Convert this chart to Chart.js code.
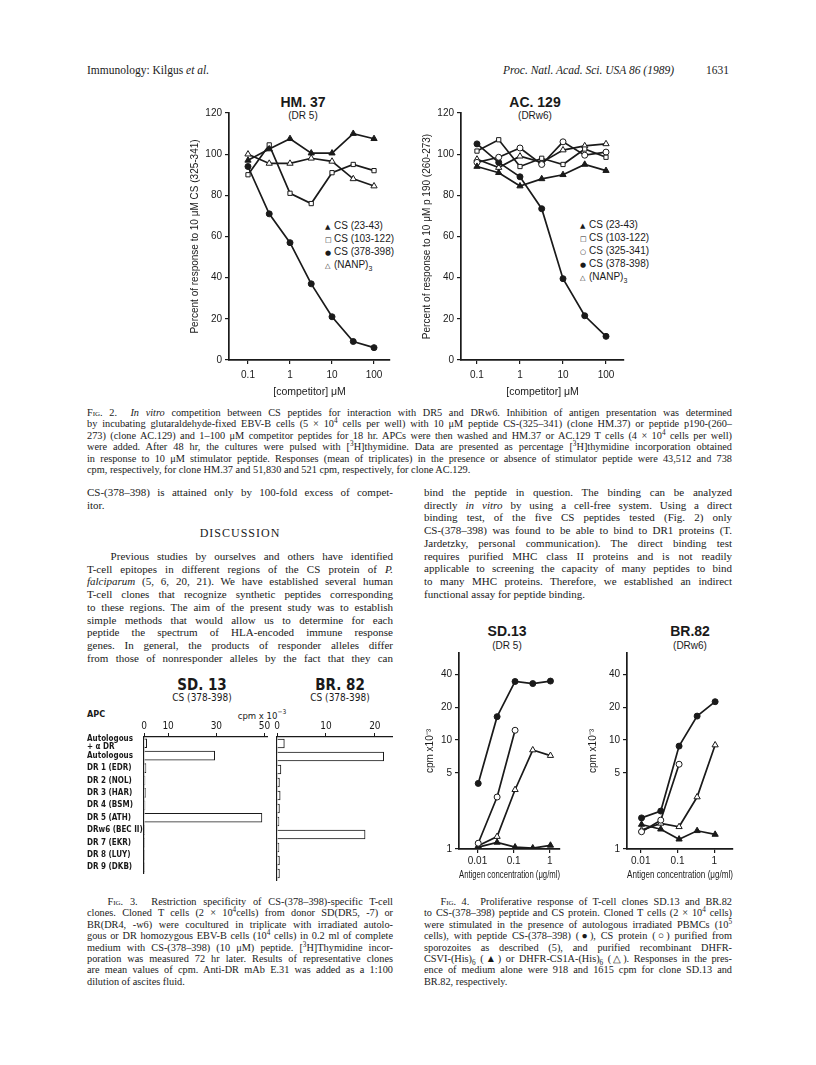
<!DOCTYPE html>
<html>
<head>
<meta charset="utf-8">
<title>Kilgus et al., PNAS 86 (1989) p. 1631</title>
<script src="https://cdn.jsdelivr.net/npm/chart.js"></script>
<style>
  body { margin:0; width:816px; height:1065px; position:relative; overflow:hidden; background:#fff; color:#1a1a1a; font-family:"Liberation Serif","Times New Roman",serif; }
  .abs { position:absolute; }
  canvas { position:absolute; }
  .txt div { white-space:nowrap; text-align:justify; text-align-last:justify; }
  .txt div.end { text-align-last:left; }
  .body { font-size:11px; line-height:12.7px; }
  .cap { font-size:10.3px; line-height:11.4px; }
  .sc { font-variant:small-caps; }
  sup, sub { font-size:0.7em; line-height:0; }
  .sans { font-family:"Liberation Sans",Arial,sans-serif; }
  .narrow { font-family:"Liberation Sans Narrow","DejaVu Sans Condensed","Arial Narrow",sans-serif; }
  .ttl { text-align:center; transform:translate(-50%,-50%); white-space:nowrap; }
  .leg { font-family:"Liberation Sans",Arial,sans-serif; font-size:10px; line-height:12px; white-space:nowrap; }
  .sym { font-family:"DejaVu Sans",sans-serif; font-size:7px; display:inline-block; width:9px; }
</style>
</head>
<body>

<!-- running head -->
<div class="abs" style="left:87px; top:64px; font-size:11.5px;">Immunology: Kilgus <i>et al.</i></div>
<div class="abs" style="left:503px; top:64px; font-size:11.5px;"><i>Proc. Natl. Acad. Sci. USA 86 (1989)</i></div>
<div class="abs" style="left:706px; top:64px; font-size:11.5px;">1631</div>

<!-- Fig. 2 titles and legends -->
<div class="abs ttl sans" style="left:303px; top:102px; font-size:14px; font-weight:bold;">HM. 37</div>
<div class="abs ttl sans" style="left:303px; top:115px; font-size:10px;">(DR 5)</div>
<div class="abs ttl sans" style="left:535px; top:102px; font-size:14px; font-weight:bold;">AC. 129</div>
<div class="abs ttl sans" style="left:535px; top:115px; font-size:10px;">(DRw6)</div>

<div class="abs leg" style="left:325px; top:220px;">
  <div><span class="sym">▲</span>CS (23-43)</div>
  <div><span class="sym">□</span>CS (103-122)</div>
  <div><span class="sym">●</span>CS (378-398)</div>
  <div><span class="sym">△</span>(NANP)<sub>3</sub></div>
</div>
<div class="abs leg" style="left:580px; top:219px;">
  <div><span class="sym">▲</span>CS (23-43)</div>
  <div><span class="sym">□</span>CS (103-122)</div>
  <div><span class="sym">○</span>CS (325-341)</div>
  <div><span class="sym">●</span>CS (378-398)</div>
  <div><span class="sym">△</span>(NANP)<sub>3</sub></div>
</div>

<canvas id="hm37" width="207" height="294" style="left:189px; top:104px;"></canvas>
<canvas id="ac129" width="209" height="294" style="left:421px; top:104px;"></canvas>

<!-- Fig. 2 legend text -->
<div class="abs txt cap" style="left:87px; top:407px; width:645px;">
  <div><span class="sc">Fig.</span> 2. &nbsp;<i>In vitro</i> competition between CS peptides for interaction with DR5 and DRw6. Inhibition of antigen presentation was determined</div>
  <div>by incubating glutaraldehyde-fixed EBV-B cells (5 × 10<sup>4</sup> cells per well) with 10 μM peptide CS-(325–341) (clone HM.37) or peptide p190-(260–</div>
  <div>273) (clone AC.129) and 1–100 μM competitor peptides for 18 hr. APCs were then washed and HM.37 or AC.129 T cells (4 × 10<sup>4</sup> cells per well)</div>
  <div>were added. After 48 hr, the cultures were pulsed with [<sup>3</sup>H]thymidine. Data are presented as percentage [<sup>3</sup>H]thymidine incorporation obtained</div>
  <div>in response to 10 μM stimulator peptide. Responses (mean of triplicates) in the presence or absence of stimulator peptide were 43,512 and 738</div>
  <div class="end">cpm, respectively, for clone HM.37 and 51,830 and 521 cpm, respectively, for clone AC.129.</div>
</div>

<!-- left column -->
<div class="abs txt body" style="left:87px; top:486px; width:306px;">
  <div>CS-(378–398) is attained only by 100-fold excess of compet-</div>
  <div class="end">itor.</div>
</div>
<div class="abs" style="left:87px; top:526px; width:306px; text-align:center; font-size:12px; letter-spacing:1px;">DISCUSSION</div>
<div class="abs txt body" style="left:87px; top:550px; width:306px;">
  <div>&nbsp;&nbsp;&nbsp;Previous studies by ourselves and others have identified</div>
  <div>T-cell epitopes in different regions of the CS protein of <i>P.</i></div>
  <div><i>falciparum</i> (5, 6, 20, 21). We have established several human</div>
  <div>T-cell clones that recognize synthetic peptides corresponding</div>
  <div>to these regions. The aim of the present study was to establish</div>
  <div>simple methods that would allow us to determine for each</div>
  <div>peptide the spectrum of HLA-encoded immune response</div>
  <div>genes. In general, the products of responder alleles differ</div>
  <div>from those of nonresponder alleles by the fact that they can</div>
</div>

<!-- right column -->
<div class="abs txt body" style="left:424px; top:486px; width:308px;">
  <div>bind the peptide in question. The binding can be analyzed</div>
  <div>directly <i>in vitro</i> by using a cell-free system. Using a direct</div>
  <div>binding test, of the five CS peptides tested (Fig. 2) only</div>
  <div>CS-(378–398) was found to be able to bind to DR1 proteins (T.</div>
  <div>Jardetzky, personal communication). The direct binding test</div>
  <div>requires purified MHC class II proteins and is not readily</div>
  <div>applicable to screening the capacity of many peptides to bind</div>
  <div>to many MHC proteins. Therefore, we established an indirect</div>
  <div class="end">functional assay for peptide binding.</div>
</div>

<!-- Fig. 3 -->
<div class="abs ttl narrow" style="left:202px; top:685px; font-size:15px; font-weight:bold;">SD. 13</div>
<div class="abs ttl narrow" style="left:202px; top:697px; font-size:10px;">CS (378-398)</div>
<div class="abs ttl narrow" style="left:340px; top:685px; font-size:15px; font-weight:bold;">BR. 82</div>
<div class="abs ttl narrow" style="left:340px; top:697px; font-size:10px;">CS (378-398)</div>
<div class="abs narrow" style="left:87px; top:709px; font-size:9px; font-weight:bold;">APC</div>
<div class="abs ttl narrow" style="left:262px; top:715px; font-size:9.5px;">cpm x 10<sup>−3</sup></div>

<canvas id="sd13bar" width="191" height="167" style="left:82px; top:715px;"></canvas>
<canvas id="br82bar" width="125" height="167" style="left:273px; top:715px;"></canvas>

<div class="abs txt cap" style="left:87px; top:896px; width:306px;">
  <div>&nbsp;&nbsp;&nbsp;<span class="sc">Fig.</span> 3. &nbsp;Restriction specificity of CS-(378–398)-specific T-cell</div>
  <div>clones. Cloned T cells (2 × 10<sup>4</sup>cells) from donor SD(DR5, -7) or</div>
  <div>BR(DR4, -w6) were cocultured in triplicate with irradiated autolo-</div>
  <div>gous or DR homozygous EBV-B cells (10<sup>4</sup> cells) in 0.2 ml of complete</div>
  <div>medium with CS-(378–398) (10 μM) peptide. [<sup>3</sup>H]Thymidine incor-</div>
  <div>poration was measured 72 hr later. Results of representative clones</div>
  <div>are mean values of cpm. Anti-DR mAb E.31 was added as a 1:100</div>
  <div class="end">dilution of ascites fluid.</div>
</div>

<!-- Fig. 4 -->
<div class="abs ttl sans" style="left:507px; top:631px; font-size:14px; font-weight:bold;">SD.13</div>
<div class="abs ttl sans" style="left:507px; top:645px; font-size:10px;">(DR 5)</div>
<div class="abs ttl sans" style="left:690px; top:631px; font-size:14px; font-weight:bold;">BR.82</div>
<div class="abs ttl sans" style="left:690px; top:645px; font-size:10px;">(DRw6)</div>

<canvas id="sd13line" width="144" height="237" style="left:424px; top:644px;"></canvas>
<canvas id="br82line" width="154" height="237" style="left:587px; top:644px;"></canvas>

<div class="abs txt cap" style="left:424px; top:896px; width:308px;">
  <div>&nbsp;&nbsp;&nbsp;<span class="sc">Fig.</span> 4. &nbsp;Proliferative response of T-cell clones SD.13 and BR.82</div>
  <div>to CS-(378–398) peptide and CS protein. Cloned T cells (2 × 10<sup>4</sup> cells)</div>
  <div>were stimulated in the presence of autologous irradiated PBMCs (10<sup>5</sup></div>
  <div>cells), with peptide CS-(378–398) (●), CS protein (○) purified from</div>
  <div>sporozoites as described (5), and purified recombinant DHFR-</div>
  <div>CSVI-(His)<sub>6</sub> (▲) or DHFR-CS1A-(His)<sub>6</sub> (△). Responses in the pres-</div>
  <div>ence of medium alone were 918 and 1615 cpm for clone SD.13 and</div>
  <div class="end">BR.82, respectively.</div>
</div>

<script type="text/javascript">

    // Fig. 2 - competitor concentration (uM) and percent response
    var competitorConc = [0.1, 0.32, 1, 3.2, 10, 32, 100];
    var hm37Cs23 = [97, 102.5, 107.5, 100.5, 100.5, 110, 107.5];
    var hm37Cs103 = [90, 104.5, 81, 76, 91, 95, 92];
    var hm37Cs378 = [94, 71, 57, 37, 21, 9, 6];
    var hm37Nanp = [100, 95.5, 95.5, 98, 96.5, 88, 84.5];
    var ac129Cs23 = [94, 91, 84.5, 88, 90, 95, 92];
    var ac129Cs103 = [101.5, 107, 94, 98, 95, 102.5, 98.5];
    var ac129Cs325 = [96, 98.5, 103, 95, 106, 99.5, 101];
    var ac129Cs378 = [105, 96, 89, 73.5, 39.5, 21.5, 11.5];
    var ac129Nanp = [97.5, 93.5, 99, 96, 102, 104, 105];
    var percentTicks = [0, 20, 40, 60, 80, 100, 120];
    var competitorTicks = [0.1, 1, 10, 100];

    // Fig. 3 - APC panel, cpm x 10^-3
    var apcLabels = [['Autologous', '+ \u03b1 DR'], 'Autologous', 'DR 1 (EDR)', 'DR 2 (NOL)', 'DR 3 (HAR)', 'DR 4 (BSM)',
        'DR 5 (ATH)', 'DRw6 (BEC II)', 'DR 7 (EKR)', 'DR 8 (LUY)', 'DR 9 (DKB)'];
    var sd13Cpm = [1.1, 29.3, 0.8, 0.4, 0.6, 0.4, 48.9, 0.3, 0.3, 0.3, 0.3];
    var br82Cpm = [1.5, 21.8, 0.8, 0.5, 0.65, 0.5, 0.4, 18, 0.4, 0.5, 0.5];
    var sd13CpmTicks = [0, 10, 30, 50];
    var br82CpmTicks = [0, 10, 20];

    // Fig. 4 - antigen concentration (ug/ml) and cpm x 10^-3
    var antigenConc = [0.0105, 0.035, 0.11, 0.34, 1.05];
    var sd13Peptide = [4.0, 16.4, 34.5, 33, 34.8];
    var sd13Protein = [1.13, 3.0, 12.3];
    var sd13Csvi = [1.04, 1.15, 1.04, 1.02, 1.08];
    var sd13Cs1a = [1.07, 1.3, 3.5, 8.1, 7.2];
    var br82Peptide = [1.93, 2.23, 8.8, 16.6, 22.5];
    var br82Protein = [1.44, 1.84, 6.0];
    var br82Csvi = [1.68, 1.52, 1.23, 1.47, 1.36];
    var br82Cs1a = [1.49, 1.72, 1.6, 3.0, 9.0];
    var cpmTicks = [1, 5, 10, 20, 40];
    var antigenTicks = [0.01, 0.1, 1];

    var black = '#1a1a1a';
    var sansFont = '"Liberation Sans", Arial, sans-serif';
    var narrowFont = '"Liberation Sans Narrow", "DejaVu Sans Condensed", "Arial Narrow", sans-serif';

    Chart.defaults.font.family = sansFont;
    Chart.defaults.color = black;
    Chart.defaults.animation = false;

    function pts(xs, ys) {
        return ys.map(function (y, i) { return { x: xs[i], y: y }; });
    }

    function series(label, xs, ys, style, filled) {
        return {
            label: label,
            data: pts(xs, ys),
            borderColor: black,
            borderWidth: 1.7,
            pointStyle: style,
            pointRadius: style == 'triangle' ? 3.6 : 3,
            pointBorderWidth: 1,
            pointBorderColor: black,
            pointBackgroundColor: filled ? black : '#fff',
            tension: 0
        };
    }

    function fixW(w) { return function (s) { s.width = w; }; }
    function fixH(h) { return function (s) { s.height = h; }; }
    function setTicks(vals) {
        return function (s) { s.ticks = vals.map(function (v) { return { value: v }; }); };
    }

    var axisGrid = { drawOnChartArea: false, tickLength: 4, color: black, lineWidth: 1.2 };
    var axisBorder = { color: black, width: 1.7 };

    function lineChart(id, datasets, x, y, pad) {
        new Chart(document.getElementById(id), {
            type: 'line',
            data: { datasets: datasets },
            options: {
                responsive: false,
                animation: false,
                layout: { padding: pad },
                plugins: { legend: { display: false }, tooltip: { enabled: false } },
                scales: {
                    x: {
                        type: 'logarithmic', min: x.min, max: x.max,
                        afterBuildTicks: setTicks(x.ticks),
                        ticks: { autoSkip: false, maxRotation: 0, padding: x.pad, font: { size: 10 }, color: black,
                            callback: function (v) { return String(v); } },
                        grid: axisGrid, border: axisBorder,
                        title: { display: true, text: x.title, font: { size: 10.5 }, padding: 0, color: black },
                        afterFit: fixH(x.h)
                    },
                    y: {
                        type: y.type, min: y.min, max: y.max,
                        afterBuildTicks: setTicks(y.ticks),
                        ticks: { autoSkip: false, padding: 3, font: { size: 10 }, color: black,
                            callback: function (v) { return String(v); } },
                        grid: axisGrid, border: axisBorder,
                        title: { display: true, text: y.title, font: { size: 10 }, padding: 0, color: black },
                        afterFit: fixW(y.w)
                    }
                }
            }
        });
    }

    // Fig. 2
    lineChart('hm37', [
        series('CS (23-43)', competitorConc, hm37Cs23, 'triangle', true),
        series('CS (103-122)', competitorConc, hm37Cs103, 'rect', false),
        series('CS (378-398)', competitorConc, hm37Cs378, 'circle', true),
        series('(NANP)3', competitorConc, hm37Nanp, 'triangle', false)
    ], { min: 0.0353, max: 240, ticks: competitorTicks, title: '[competitor] \u03bcM', pad: 5, h: 38 },
       { type: 'linear', min: 0, max: 120, ticks: percentTicks, title: 'Percent of response to 10 \u03bcM CS (325-341)', w: 40 },
       { top: 8, right: 6, left: 0, bottom: 0 });

    lineChart('ac129', [
        series('CS (23-43)', competitorConc, ac129Cs23, 'triangle', true),
        series('CS (103-122)', competitorConc, ac129Cs103, 'rect', false),
        series('CS (325-341)', competitorConc, ac129Cs325, 'circle', false),
        series('CS (378-398)', competitorConc, ac129Cs378, 'circle', true),
        series('(NANP)3', competitorConc, ac129Nanp, 'triangle', false)
    ], { min: 0.0425, max: 262, ticks: competitorTicks, title: '[competitor] \u03bcM', pad: 5, h: 38 },
       { type: 'linear', min: 0, max: 120, ticks: percentTicks, title: 'Percent of response to 10 \u03bcM p 190 (260-273)', w: 40 },
       { top: 8, right: 6, left: 0, bottom: 0 });

    // Fig. 4
    lineChart('sd13line', [
        series('peptide', antigenConc, sd13Peptide, 'circle', true),
        series('protein', antigenConc, sd13Protein, 'circle', false),
        series('DHFR-CSVI', antigenConc, sd13Csvi, 'triangle', true),
        series('DHFR-CS1A', antigenConc, sd13Cs1a, 'triangle', false)
    ], { min: 0.00308, max: 1.93, ticks: antigenTicks, title: 'Antigen concentration (\u03bcg/ml)', pad: 2, h: 32 },
       { type: 'logarithmic', min: 1, max: 63, ticks: cpmTicks, title: 'cpm x10\u207b\u00b3', w: 35 },
       { top: 6, right: 8, left: 0, bottom: 0 });

    lineChart('br82line', [
        series('peptide', antigenConc, br82Peptide, 'circle', true),
        series('protein', antigenConc, br82Protein, 'circle', false),
        series('DHFR-CSVI', antigenConc, br82Csvi, 'triangle', true),
        series('DHFR-CS1A', antigenConc, br82Cs1a, 'triangle', false)
    ], { min: 0.00423, max: 3.21, ticks: antigenTicks, title: 'Antigen concentration (\u03bcg/ml)', pad: 2, h: 32 },
       { type: 'logarithmic', min: 1, max: 63, ticks: cpmTicks, title: 'cpm x10\u207b\u00b3', w: 40 },
       { top: 6, right: 8, left: 0, bottom: 0 });

    // Fig. 3
    function barChart(id, values, xMax, xTicks, showLabels, yW, padLeft) {
        new Chart(document.getElementById(id), {
            type: 'bar',
            data: {
                labels: apcLabels,
                datasets: [{ data: values, backgroundColor: '#fff', borderColor: black, borderWidth: 1,
                    borderSkipped: 'start', barThickness: 9 }]
            },
            options: {
                indexAxis: 'y',
                responsive: false,
                animation: false,
                layout: { padding: { left: padLeft, right: 6, top: 0, bottom: 2 } },
                plugins: { legend: { display: false }, tooltip: { enabled: false } },
                scales: {
                    x: {
                        position: 'top', min: 0, max: xMax,
                        afterBuildTicks: setTicks(xTicks),
                        ticks: { autoSkip: false, maxRotation: 0, padding: 1, font: { family: narrowFont, size: 10 }, color: black },
                        grid: { drawOnChartArea: false, tickLength: 4, color: black, lineWidth: 1 },
                        border: { color: black, width: 1.2 },
                        afterFit: fixH(22)
                    },
                    y: {
                        ticks: { display: showLabels, autoSkip: false, crossAlign: 'far', padding: 0,
                            font: { family: narrowFont, size: 8, weight: 'bold', lineHeight: 1.05 }, color: black },
                        grid: { drawOnChartArea: false, drawTicks: false },
                        border: { color: black, width: 1.2 },
                        afterFit: fixW(yW)
                    }
                }
            }
        });
    }

    barChart('sd13bar', sd13Cpm, 51, sd13CpmTicks, true, 57, 5);
    barChart('br82bar', br82Cpm, 23.5, br82CpmTicks, false, 0, 4);

</script>
</body>
</html>
